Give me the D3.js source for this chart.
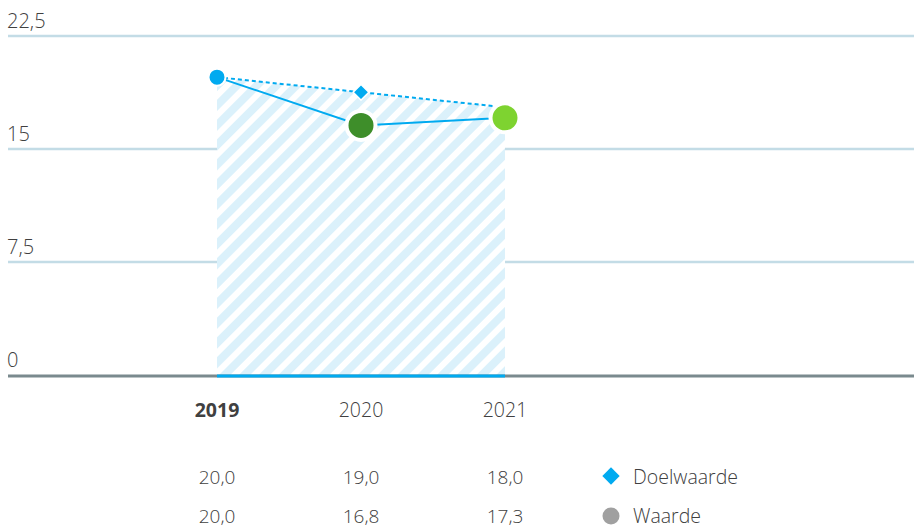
<!DOCTYPE html>
<html>
<head>
<meta charset="utf-8">
<script src="https://cdn.jsdelivr.net/npm/d3@7"></script>
<style>
  body { margin: 0; background: #fff; }
  text { font-family: "Open Sans", "Noto Sans", sans-serif; font-weight: 300; fill: #404040; }
</style>
</head>
<body>
<div id="chart"></div>
<script>
// data
const years = ["2019", "2020", "2021"];
const doelwaarde = [20.0, 19.0, 18.0];
const waarde = [20.0, 16.8, 17.3];
const yTicks = [0, 7.5, 15, 22.5];
const markerColors = ["#00aaf0", "#3e8e2a", "#7ed330"];

const width = 914, height = 529;
const fmt = v => d3.format(".1f")(v).replace(".", ",");
const tickFmt = v => String(v).replace(".", ",");

const svg = d3.select("#chart").append("svg")
  .attr("width", width).attr("height", height);

const x = d3.scalePoint().domain(years).range([217, 505]);
// axis scale (gridlines) and marks scale (points sit a little lower in the original)
const y = d3.scaleLinear().domain([0, 22.5]).range([375, 36]);
const yMark = d3.scaleLinear().domain([0, 22.5]).range([378.5, 39.5]);

// hatch pattern
const defs = svg.append("defs");
const pat = defs.append("pattern")
  .attr("id", "hatch")
  .attr("patternUnits", "userSpaceOnUse")
  .attr("width", 14).attr("height", 14)
  .attr("patternTransform", "rotate(45)");
pat.append("rect").attr("width", 14).attr("height", 14).attr("fill", "#fff");
pat.append("rect").attr("width", 8).attr("height", 14).attr("fill", "#dbf1fb");

// gridlines
svg.append("g").selectAll("line")
  .data(yTicks.filter(d => d > 0))
  .join("line")
  .attr("x1", 8).attr("x2", width)
  .attr("y1", d => y(d)).attr("y2", d => y(d))
  .attr("stroke", "#c3dce6").attr("stroke-width", 2.5);

svg.append("g").selectAll("text")
  .data(yTicks)
  .join("text")
  .attr("x", 7).attr("y", d => y(d) - 8)
  .attr("font-size", 20)
  .text(d => tickFmt(d));

// hatched area under target
const area = d3.area()
  .x((d, i) => x(years[i]))
  .y0(y(0))
  .y1(d => yMark(d));
svg.append("path")
  .datum(doelwaarde)
  .attr("d", area)
  .attr("fill", "url(#hatch)");

// baseline
svg.append("line")
  .attr("x1", 8).attr("x2", width)
  .attr("y1", y(0) + 1).attr("y2", y(0) + 1)
  .attr("stroke", "#7a8a8e").attr("stroke-width", 3);
svg.append("line")
  .attr("x1", x(years[0])).attr("x2", x(years[2]))
  .attr("y1", y(0) + 1).attr("y2", y(0) + 1)
  .attr("stroke", "#00aaf0").attr("stroke-width", 3);

// target dashed line
const line = d3.line().x((d, i) => x(years[i])).y(d => yMark(d));
svg.append("path")
  .datum(doelwaarde)
  .attr("d", line)
  .attr("fill", "none")
  .attr("stroke", "#00aaf0").attr("stroke-width", 2)
  .attr("stroke-dasharray", "4,3");

// actual solid line
svg.append("path")
  .datum(waarde)
  .attr("d", line)
  .attr("fill", "none")
  .attr("stroke", "#00aaf0").attr("stroke-width", 2);

// target diamond (2020)
svg.append("path")
  .attr("d", d3.symbol(d3.symbolSquare, 125)())
  .attr("transform", `translate(${x(years[1])},${yMark(doelwaarde[1])}) rotate(45)`)
  .attr("fill", "#00aaf0")
  .attr("stroke", "#fff").attr("stroke-width", 1.5);

// actual markers
svg.append("g").selectAll("circle")
  .data(waarde)
  .join("circle")
  .attr("cx", (d, i) => x(years[i]))
  .attr("cy", d => yMark(d))
  .attr("r", (d, i) => i === 0 ? 8.5 : 14.5)
  .attr("fill", (d, i) => markerColors[i])
  .attr("stroke", "#fff")
  .attr("stroke-width", (d, i) => i === 0 ? 2 : 4);

// x labels
svg.append("g").selectAll("text")
  .data(years)
  .join("text")
  .attr("x", d => x(d)).attr("y", 417)
  .attr("text-anchor", "middle")
  .attr("font-size", 19.5)
  .style("font-weight", (d, i) => i === 0 ? 700 : 300)
  .text(d => d);

// table rows
const rows = [doelwaarde, waarde];
rows.forEach((row, r) => {
  svg.append("g").selectAll("text")
    .data(row)
    .join("text")
    .attr("x", (d, i) => x(years[i])).attr("y", 484 + r * 39)
    .attr("text-anchor", "middle")
    .attr("font-size", 19)
    .text(d => fmt(d));
});

// legend
const legend = svg.append("g");
legend.append("path")
  .attr("d", d3.symbol(d3.symbolSquare, 150)())
  .attr("transform", "translate(611,476) rotate(45)")
  .attr("fill", "#00aaf0");
legend.append("circle")
  .attr("cx", 611).attr("cy", 516).attr("r", 8.5)
  .attr("fill", "#a0a0a0");
legend.append("text").attr("x", 633).attr("y", 484).attr("font-size", 19.5).text("Doelwaarde");
legend.append("text").attr("x", 633).attr("y", 523).attr("font-size", 19.5).text("Waarde");
</script>
</body>
</html>
